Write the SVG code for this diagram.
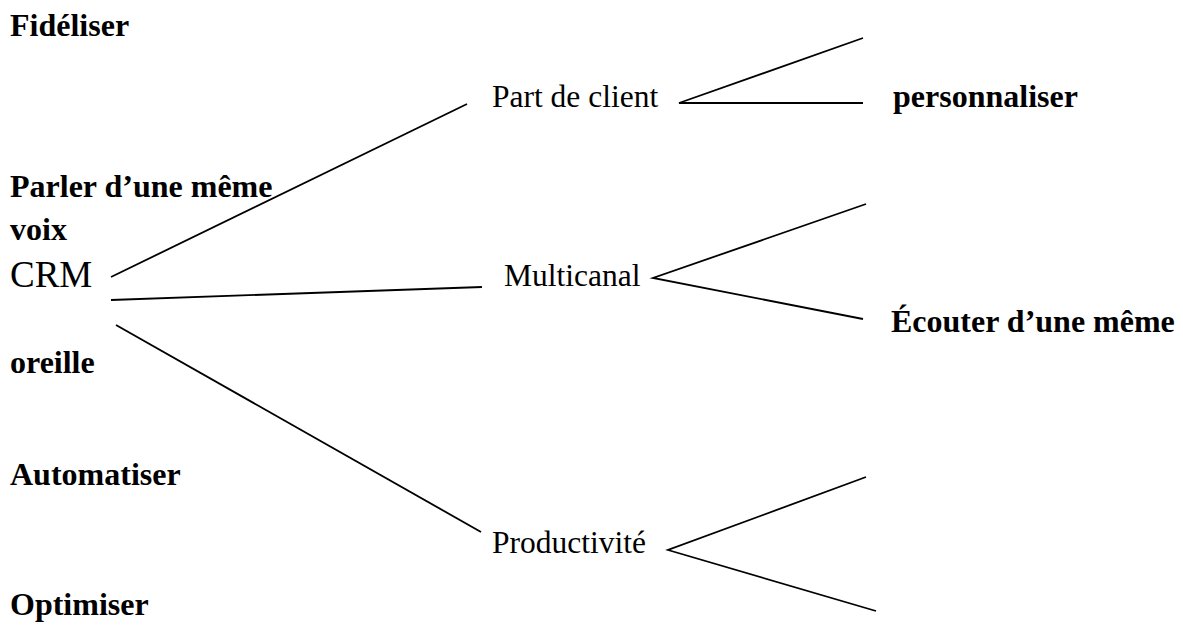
<svg xmlns="http://www.w3.org/2000/svg" width="1183" height="628" viewBox="0 0 1183 628">
  <style>
    .bold { font-family: "Liberation Serif", "Times New Roman", serif; font-weight: bold; font-size: 32px; fill: #000; }
    .reg { font-family: "Liberation Serif", "Times New Roman", serif; font-size: 31.5px; fill: #000; }
    .big { font-family: "Liberation Serif", "Times New Roman", serif; font-size: 37px; fill: #000; }
    .link { stroke: #000; stroke-width: 1.8; fill: none; stroke-linecap: butt; }
  </style>
  <rect width="1183" height="628" fill="#fff"/>

  <!-- left column of objectives -->
  <g id="fideliser"><text class="bold" x="10" y="36">Fidéliser</text></g>
  <g id="parler"><text class="bold" x="10" y="197">Parler d’une même</text><text class="bold" x="10" y="240">voix</text></g>
  <g id="crm"><text class="big" x="10" y="287">CRM</text></g>
  <g id="oreille"><text class="bold" x="10" y="373">oreille</text></g>
  <g id="automatiser"><text class="bold" x="10" y="485">Automatiser</text></g>
  <g id="optimiser"><text class="bold" x="10" y="615">Optimiser</text></g>

  <!-- middle branches -->
  <g id="part-client"><text class="reg" x="492" y="107">Part de client</text></g>
  <g id="multicanal"><text class="reg" x="504" y="286">Multicanal</text></g>
  <g id="productivite"><text class="reg" x="492" y="553">Productivité</text></g>

  <!-- right labels -->
  <g id="personnaliser"><text class="bold" x="893" y="107">personnaliser</text></g>
  <g id="ecouter"><text class="bold" x="891" y="332">Écouter d’une même</text></g>

  <!-- connectors -->
  <g id="connectors">
    <line class="link" x1="111" y1="277" x2="467" y2="104"/>
    <line class="link" x1="111" y1="300" x2="482" y2="287"/>
    <line class="link" x1="116" y1="325" x2="481" y2="532"/>
    <polyline class="link" points="863,38 679,103 863,103"/>
    <polyline class="link" points="866,204 653,278 863,319"/>
    <polyline class="link" points="866,477 668,550 876,611"/>
  </g>
</svg>
